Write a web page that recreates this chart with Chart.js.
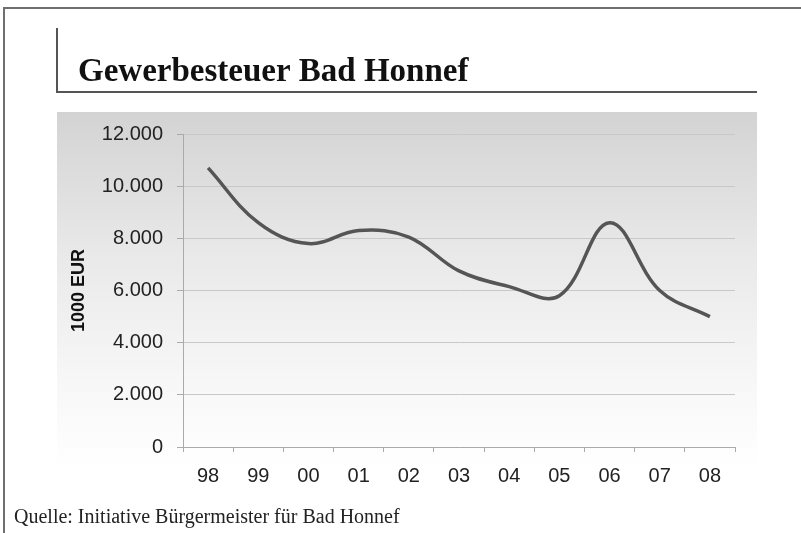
<!DOCTYPE html>
<html>
<head>
<meta charset="utf-8">
<script src="https://cdn.jsdelivr.net/npm/chart.js@4"></script>
<style>
  html, body { margin: 0; padding: 0; background: #fff; }
  #wrap { width: 801px; height: 533px; position: relative; }
</style>
</head>
<body>
<div id="wrap"><canvas id="myChart" width="801" height="533"></canvas></div>
<script>
// chart data
const years = ["98", "99", "00", "01", "02", "03", "04", "05", "06", "07", "08"];
const gewerbesteuer = [10700, 8600, 7800, 8300, 8050, 6750, 6150, 5800, 8600, 6000, 5000];
const yMax = 12000;
const yStep = 2000;
const titleText = "Gewerbesteuer Bad Honnef";
const sourceText = "Quelle: Initiative Bürgermeister für Bad Honnef";
const axisTitle = "1000 EUR";

// format 12000 -> 12.000
function formatDe(v) {
    return String(v).replace(/\B(?=(\d{3})+(?!\d))/g, ".");
}

// background, frame, title and source
const framePlugin = {
    id: "frame",
    beforeDraw(chart) {
        const ctx = chart.ctx;
        ctx.save();
        ctx.fillStyle = "#fff";
        ctx.fillRect(0, 0, chart.width, chart.height);

        // grey gradient behind the plot
        const grad = ctx.createLinearGradient(0, 112, 0, 470);
        grad.addColorStop(0, "#d3d3d3");
        grad.addColorStop(0.4, "#e9e9e9");
        grad.addColorStop(0.75, "#f7f7f7");
        grad.addColorStop(1, "#ffffff");
        ctx.fillStyle = grad;
        ctx.fillRect(57, 112, 700, 380);

        // outer frame (top and left edges)
        ctx.strokeStyle = "#707070";
        ctx.lineWidth = 2;
        ctx.beginPath();
        ctx.moveTo(4, 533);
        ctx.lineTo(4, 8);
        ctx.lineTo(801, 8);
        ctx.stroke();

        // title bracket
        ctx.strokeStyle = "#555";
        ctx.lineWidth = 2;
        ctx.beginPath();
        ctx.moveTo(57, 28);
        ctx.lineTo(57, 92);
        ctx.lineTo(757, 92);
        ctx.stroke();

        ctx.fillStyle = "#111";
        ctx.textBaseline = "alphabetic";
        ctx.font = "bold 33px 'Liberation Serif', serif";
        ctx.fillText(titleText, 78, 81);

        ctx.fillStyle = "#222";
        ctx.font = "20px 'Liberation Serif', serif";
        ctx.fillText(sourceText, 14, 523);
        ctx.restore();
    }
};

const canvas = document.getElementById("myChart");
const ctx = canvas.getContext("2d");

const chart = new Chart(ctx, {
    type: "line",
    data: {
        labels: years,
        datasets: [{
            data: gewerbesteuer,
            borderColor: "#555555",
            borderWidth: 3.5,
            pointRadius: 0,
            tension: 0.38,
            fill: false
        }]
    },
    options: {
        responsive: false,
        animation: false,
        layout: {
            padding: { left: 66, right: 66, top: 134, bottom: 48 }
        },
        plugins: {
            legend: { display: false },
            tooltip: { enabled: false }
        },
        scales: {
            x: {
                offset: true,
                grid: {
                    offset: true,
                    drawOnChartArea: false,
                    color: "#aaaaaa",
                    tickLength: 5
                },
                border: { color: "#aaaaaa", width: 1 },
                ticks: {
                    color: "#222",
                    padding: 12,
                    font: { family: "'Liberation Sans', Arial, sans-serif", size: 20 }
                },
                afterFit(scale) { scale.height = 533 - 48 - 447; }
            },
            y: {
                min: 0,
                max: yMax,
                ticks: {
                    stepSize: yStep,
                    color: "#222",
                    padding: 14,
                    font: { family: "'Liberation Sans', Arial, sans-serif", size: 20 },
                    callback: (v) => formatDe(v)
                },
                grid: {
                    color: "#c8c8c8",
                    lineWidth: 1,
                    tickLength: 6,
                    tickColor: "#aaaaaa"
                },
                border: { color: "#aaaaaa", width: 1 },
                title: {
                    display: true,
                    text: axisTitle,
                    color: "#111",
                    padding: { top: 2, bottom: 0 },
                    font: { family: "'Liberation Sans', Arial, sans-serif", size: 18, weight: "bold" }
                },
                afterFit(scale) { scale.width = 183 - 66; }
            }
        }
    },
    plugins: [framePlugin]
});
</script>
</body>
</html>
